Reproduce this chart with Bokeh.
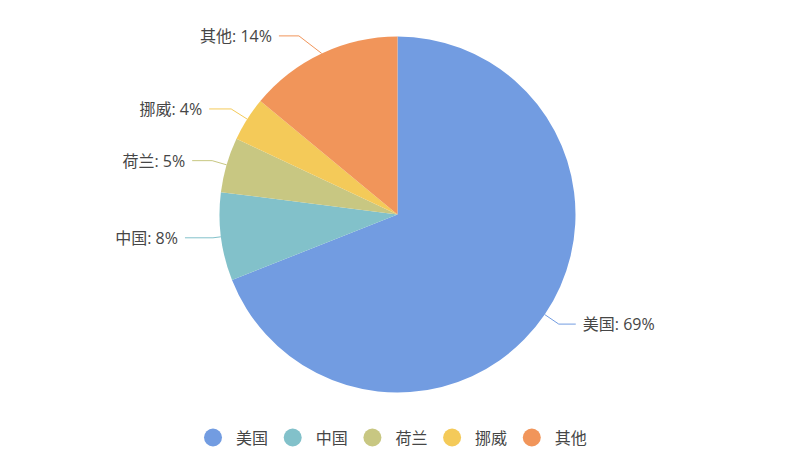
import math
from bokeh.plotting import figure
from bokeh.models import Range1d, ColumnDataSource
from bokeh.core.properties import value
from bokeh.embed import file_html
from bokeh.resources import INLINE

categories = ["美国", "中国", "荷兰", "挪威", "其他"]
shares = [69, 8, 5, 4, 14]
colors = ["#729ce1", "#82c1ca", "#c8c782", "#f4ca59", "#f1955a"]

# label-line layout (radial extension px, angle nudge deg, horizontal length px)
line_ext = [17, 8, 15, 19, 26]
line_nudge = [0, 0, 0, 0, 3.7]
line_len2 = [17, 28, 20, 22, 20]

W, H = 772, 447
FONT = "'Open Sans', 'Noto Sans CJK SC'"

p = figure(width=W, height=H, output_backend="svg", toolbar_location=None,
           x_range=Range1d(0, W), y_range=Range1d(463 - H, 463),
           min_border=0, outline_line_color=None)
p.axis.visible = False
p.grid.visible = False
p.background_fill_color = "white"
p.border_fill_color = "white"

cx, cy_img, R = 397, 214, 178
cy = 463 - cy_img

total = sum(shares)
starts, ends = [], []
cum = 0.0
for s in shares:
    a0 = math.pi / 2 - (cum + s) / total * 2 * math.pi
    a1 = math.pi / 2 - cum / total * 2 * math.pi
    starts.append(a0)
    ends.append(a1)
    cum += s

src = ColumnDataSource(dict(start=starts, end=ends, color=colors))
p.wedge(x=cx, y=cy, radius=R, start_angle="start", end_angle="end",
        fill_color="color", line_color=None, source=src)

GAP = 7
for i, (cat, s, a0, a1, c) in enumerate(zip(categories, shares, starts, ends, colors)):
    mid = (a0 + a1) / 2
    x0, y0 = cx + R * math.cos(mid), cy + R * math.sin(mid)
    m2 = mid + math.radians(line_nudge[i])
    r1 = R + line_ext[i]
    x1, y1 = cx + r1 * math.cos(m2), cy + r1 * math.sin(m2)
    right = math.cos(mid) >= 0
    x2 = x1 + (line_len2[i] if right else -line_len2[i])
    p.line([x0, x1, x2], [y0, y1, y1], line_color=c, line_width=1)
    p.text(x=[x2 + (GAP if right else -GAP)], y=[y1], text=[f"{cat}: {s}%"],
           text_font=value(FONT), text_font_size="16px", text_color="#464646",
           text_align="left" if right else "right", text_baseline="middle")

# legend
leg_y = 463 - 437
leg_x0, leg_step = 212.5, 79.7
for i, (cat, c) in enumerate(zip(categories, colors)):
    lx = leg_x0 + i * leg_step
    p.scatter(x=[lx], y=[leg_y], size=18, marker="circle", fill_color=c, line_color=None)
    p.text(x=[lx + 23], y=[leg_y], text=[cat], text_font=value(FONT),
           text_font_size="16px", text_color="#464646",
           text_align="left", text_baseline="middle")

open("out.html", "w").write(file_html(p, INLINE))
